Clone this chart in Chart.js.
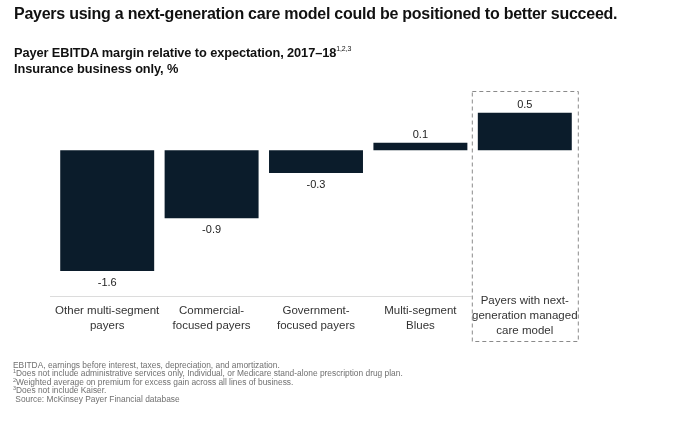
<!DOCTYPE html>
<html>
<head>
<meta charset="utf-8">
<script src="https://cdn.jsdelivr.net/npm/chart.js@4.4.1/dist/chart.umd.min.js"></script>
<style>
  html, body { margin: 0; padding: 0; background: #fff; }
  #wrap { position: relative; width: 700px; height: 438px; overflow: hidden; font-family: "Liberation Sans", Arial, sans-serif; }
  #c { position: absolute; left: 0; top: 0; }
  .t { position: absolute; white-space: nowrap; }
  #title { left: 14px; top: 5px; font-size: 16px; font-weight: bold; color: #111; letter-spacing: -0.25px; }
  #sub1 { left: 14px; top: 45px; font-size: 12.8px; font-weight: bold; color: #111; letter-spacing: -0.1px; }
  #sub1 sup { font-size: 7px; font-weight: normal; vertical-align: 0; position: relative; top: -6px; line-height: 0; }
  #sub2 { left: 14px; top: 61px; font-size: 12.8px; font-weight: bold; color: #111; letter-spacing: -0.1px; }
  #foot { left: 13px; top: 361px; font-size: 8.4px; line-height: 8.4px; color: #707070; }
  #foot sup { font-size: 5.5px; vertical-align: 0; position: relative; top: -3px; line-height: 0; }
</style>
</head>
<body>
<div id="wrap">
  <canvas id="c" width="700" height="438"></canvas>
  <div class="t" id="title">Payers using a next-generation care model could be positioned to better succeed.</div>
  <div class="t" id="sub1">Payer EBITDA margin relative to expectation, 2017–18<sup>1,2,3</sup></div>
  <div class="t" id="sub2">Insurance business only, %</div>
  <div class="t" id="foot">
    EBITDA, earnings before interest, taxes, depreciation, and amortization.<br>
    <sup>1</sup>Does not include administrative services only, Individual, or Medicare stand-alone prescription drug plan.<br>
    <sup>2</sup>Weighted average on premium for excess gain across all lines of business.<br>
    <sup>3</sup>Does not include Kaiser.<br>
    &nbsp;Source: McKinsey Payer Financial database
  </div>
</div>
<script>
const categories = [
  ["Other multi-segment", "payers"],
  ["Commercial-", "focused payers"],
  ["Government-", "focused payers"],
  ["Multi-segment", "Blues"],
  ["Payers with next-", "generation managed", "care model"]
];
const margins = [-1.6, -0.9, -0.3, 0.1, 0.5];
const valueLabels = ["-1.6", "-0.9", "-0.3", "0.1", "0.5"];
const highlightIndex = 4;

const BAR = "#0b1c2b";

const overlay = {
  id: "overlay",
  afterDatasetsDraw(chart) {
    const { ctx, chartArea, scales } = chart;
    const x = scales.x;
    const meta = chart.getDatasetMeta(0);
    ctx.save();
    const hx = x.getPixelForValue(highlightIndex);
    ctx.strokeStyle = "#dcdcdc";
    ctx.lineWidth = 1;
    ctx.beginPath();
    ctx.moveTo(chartArea.left - 5, chartArea.bottom + 0.5);
    ctx.lineTo(hx - 53, chartArea.bottom + 0.5);
    ctx.stroke();
    ctx.fillStyle = "#222";
    ctx.font = "11px 'Liberation Sans', Arial, sans-serif";
    ctx.textAlign = "center";
    ctx.textBaseline = "middle";
    meta.data.forEach((bar, i) => {
      const v = margins[i];
      const py = v < 0 ? bar.y + 12 : bar.y - 8;
      ctx.fillText(valueLabels[i], bar.x, py);
    });
    ctx.fillStyle = "#333";
    ctx.font = "11.5px 'Liberation Sans', Arial, sans-serif";
    categories.forEach((lines, i) => {
      const cx = x.getPixelForValue(i);
      const startY = lines.length === 3 ? chartArea.bottom + 5 : chartArea.bottom + 15;
      lines.forEach((ln, k) => ctx.fillText(ln, cx, startY + k * 15));
    });
    ctx.strokeStyle = "#8a8a8a";
    ctx.setLineDash([4, 3]);
    ctx.lineWidth = 1;
    ctx.strokeRect(hx - 53 + 0.5, chartArea.top + 1.5, 106, 250);
    ctx.restore();
  }
};

new Chart(document.getElementById("c"), {
  type: "bar",
  data: {
    labels: categories,
    datasets: [{
      data: margins,
      backgroundColor: BAR,
      borderWidth: 0,
      categoryPercentage: 0.9,
      barPercentage: 1.0
    }]
  },
  options: {
    responsive: false,
    animation: false,
    devicePixelRatio: 1,
    layout: { padding: { left: 55, right: 123, top: 90, bottom: 142 } },
    plugins: { legend: { display: false }, tooltip: { enabled: false }, title: { display: false } },
    scales: {
      x: { display: false },
      y: { display: false, min: -1.93, max: 0.8 }
    }
  },
  plugins: [overlay]
});
</script>
</body>
</html>
